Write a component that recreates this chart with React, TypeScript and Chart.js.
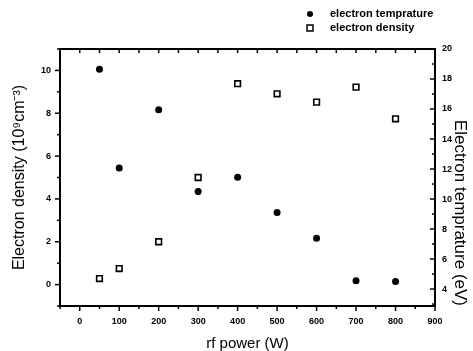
import React, { useEffect, useRef } from "react";
import { Chart, registerables } from "chart.js";

Chart.register(...registerables);

const rfPower = [50, 100, 200, 300, 400, 500, 600, 700, 800];
const electronDensity = [0.28, 0.75, 2.0, 5.0, 9.38, 8.91, 8.52, 9.22, 7.74];
const electronTemperature = [18.65, 12.07, 15.95, 10.51, 11.45, 9.11, 7.38, 4.55, 4.51];
const powerTicks = [0, 100, 200, 300, 400, 500, 600, 700, 800, 900];
const densityTicks = [0, 2, 4, 6, 8, 10];
const temperatureTicks = [4, 6, 8, 10, 12, 14, 16, 18, 20];
const legendLabels = ["electron temprature", "electron density"];

const FONT = "'Liberation Sans', Arial, sans-serif";

const tickMarks = {
  id: "tickMarks",
  afterDraw(chart: any) {
    const ctx = chart.ctx;
    const area = chart.chartArea;
    const { x, x2, y, y2 } = chart.scales;
    ctx.save();
    ctx.strokeStyle = "#000";
    ctx.lineWidth = 1.5;
    const line = (ax: number, ay: number, bx: number, by: number) => {
      ctx.beginPath();
      ctx.moveTo(ax, ay);
      ctx.lineTo(bx, by);
      ctx.stroke();
    };
    for (let v = x.min; v <= x.max + 0.001; v += 50) {
      const major = Math.abs(v % 100) < 0.001;
      const px = x.getPixelForValue(v);
      const len = major ? 5 : 3;
      line(px, area.bottom, px, area.bottom + len);
      const tx = x2.getPixelForValue(v);
      line(tx, area.top, tx, area.top + 4);
    }
    for (let v = Math.ceil(y.min); v <= y.max + 0.001; v += 1) {
      const major = Math.abs(v % 2) < 0.001;
      const py = y.getPixelForValue(v);
      line(area.left, py, area.left - (major ? 5 : 3), py);
    }
    for (let v = Math.ceil(y2.min); v <= y2.max + 0.001; v += 1) {
      const major = Math.abs(v % 2) < 0.001;
      const py = y2.getPixelForValue(v);
      line(area.right, py, area.right - (major ? 5 : 3), py);
    }
    ctx.restore();
  },
};

const customLegend = {
  id: "customLegend",
  afterDraw(chart: any) {
    const ctx = chart.ctx;
    ctx.save();
    ctx.font = `bold 11px ${FONT}`;
    ctx.textBaseline = "middle";
    ctx.fillStyle = "#000";
    const rows = [14, 28];
    chart.data.datasets.forEach((ds: any, i: number) => {
      const cy = rows[i];
      const cx = 310;
      if (ds.pointStyle === "circle") {
        ctx.beginPath();
        ctx.arc(cx, cy, 3, 0, Math.PI * 2);
        ctx.fill();
      } else {
        ctx.lineWidth = 1.5;
        ctx.strokeStyle = "#000";
        ctx.strokeRect(cx - 3, cy - 3, 6, 6);
      }
      ctx.fillText(ds.label, 330, cy);
    });
    ctx.restore();
  },
};

export default function App() {
  const ref = useRef<HTMLCanvasElement>(null);
  useEffect(() => {
    const canvas = ref.current;
    if (!canvas) return;
    const tickFont = { family: FONT, size: 9, weight: "bold" as const };
    const xTitleFont = { family: FONT, size: 15 };
    const leftTitleFont = { family: FONT, size: 16 };
    const rightTitleFont = { family: FONT, size: 17 };
    const chart = new Chart(canvas, {
      type: "scatter",
      data: {
        datasets: [
          {
            label: legendLabels[0],
            data: rfPower.map((p, i) => ({ x: p, y: electronTemperature[i] })),
            yAxisID: "y2",
            pointStyle: "circle",
            pointRadius: 3.5,
            pointBackgroundColor: "#000",
            pointBorderColor: "#000",
            pointBorderWidth: 0,
          },
          {
            label: legendLabels[1],
            data: rfPower.map((p, i) => ({ x: p, y: electronDensity[i] })),
            yAxisID: "y",
            pointStyle: "rect",
            pointRadius: 4,
            pointBackgroundColor: "#fff",
            pointBorderColor: "#000",
            pointBorderWidth: 1.6,
          },
        ],
      },
      options: {
        animation: false,
        responsive: false,
        maintainAspectRatio: false,
        layout: { padding: 0 },
        plugins: { legend: { display: false }, tooltip: { enabled: false } },
        scales: {
          x: {
            type: "linear",
            position: "bottom",
            min: -50,
            max: 900,
            afterBuildTicks: (s: any) => {
              s.ticks = powerTicks.map((v) => ({ value: v }));
            },
            afterFit: (s: any) => {
              s.height = 45;
            },
            grid: { display: false, drawTicks: false },
            border: { display: true, color: "#000", width: 2 },
            ticks: { font: tickFont, color: "#000", padding: 10, maxRotation: 0 },
            title: {
              display: true,
              text: "rf power (W)",
              font: xTitleFont,
              color: "#000",
              padding: { top: 0, bottom: -2 },
            },
          },
          x2: {
            type: "linear",
            position: "top",
            min: -50,
            max: 900,
            afterFit: (s: any) => {
              s.height = 49;
            },
            grid: { display: false, drawTicks: false },
            border: { display: true, color: "#000", width: 2 },
            ticks: { display: false },
          },
          y: {
            type: "linear",
            position: "left",
            min: -1,
            max: 11,
            afterBuildTicks: (s: any) => {
              s.ticks = densityTicks.map((v) => ({ value: v }));
            },
            afterFit: (s: any) => {
              s.width = 60;
            },
            grid: { display: false, drawTicks: false },
            border: { display: true, color: "#000", width: 2 },
            ticks: { font: tickFont, color: "#000", padding: 9 },
            title: {
              display: true,
              text: "Electron density (10⁹cm⁻³)",
              font: leftTitleFont,
              color: "#000",
              padding: { top: 10, bottom: 0 },
            },
          },
          y2: {
            type: "linear",
            position: "right",
            min: 2.87,
            max: 20,
            afterBuildTicks: (s: any) => {
              s.ticks = temperatureTicks.map((v) => ({ value: v }));
            },
            afterFit: (s: any) => {
              s.width = 38;
            },
            grid: { display: false, drawTicks: false },
            border: { display: true, color: "#000", width: 2 },
            ticks: { font: tickFont, color: "#000", padding: 7 },
            title: {
              display: true,
              text: "Electron temprature (eV)",
              align: "start",
              font: rightTitleFont,
              color: "#000",
              padding: { top: 3, bottom: 0 },
            },
          },
        },
      },
      plugins: [tickMarks, customLegend],
    });
    return () => chart.destroy();
  }, []);
  return (
    <div style={{ position: "fixed", left: 0, top: 0, width: 473, height: 351, background: "#fff" }}>
      <canvas ref={ref} width={473} height={351} style={{ width: 473, height: 351, display: "block" }} />
    </div>
  );
}
